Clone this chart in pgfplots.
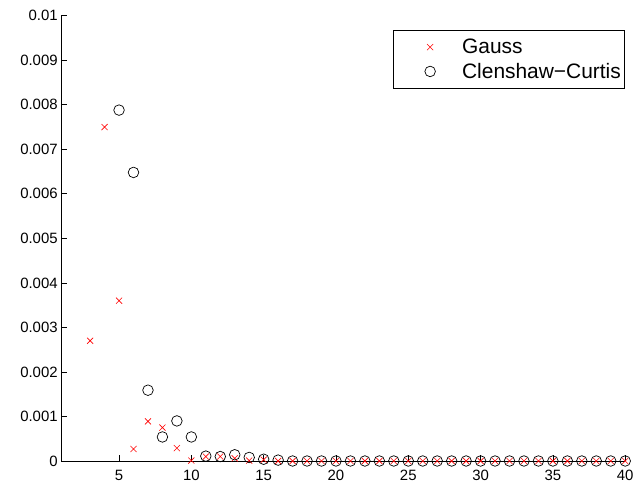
\documentclass[border=0pt]{standalone}
\usepackage{fontspec}
\setmainfont{Liberation Sans}
\usepackage{pgfplots}
\pgfplotsset{compat=1.18}
\begin{document}
\begin{tikzpicture}
\path[use as bounding box] (-61.2bp,-27bp) rectangle (572.8bp,461bp);
\begin{axis}[
  at={(0,0)}, anchor=south west,
  scale only axis, width=564bp, height=445.3bp,
  xmin=1, xmax=40, ymin=0, ymax=0.01,
  axis lines*=left,
  axis line style={line width=0.7bp, black},
  xtick={5,10,15,20,25,30,35,40},
  ytick={0,0.001,0.002,0.003,0.004,0.005,0.006,0.007,0.008,0.009,0.01},
  tick align=inside, major tick length=5.5bp,
  tick style={line width=0.7bp, black},
  scaled y ticks=false,
  yticklabel style={/pgf/number format/fixed, /pgf/number format/precision=3},
  xticklabel style={yshift=-6bp},
  /pgf/number format/assume math mode=true,
  ticklabel style={font=\fontsize{15}{18}\selectfont},
  clip=false,
  legend cell align=left,
  legend image code/.code={\path[draw=none,fill=none] (0bp,-5bp) rectangle (66bp,5bp); \draw plot coordinates {(36bp,0bp)};},
  legend style={at={(rel axis cs:1,1)}, anchor=north east, xshift=-1bp, yshift=-14bp,
    draw=black, line width=0.7bp, font=\fontsize{21}{25}\selectfont,
    inner xsep=1bp, inner ysep=7bp, row sep=4bp},
]
\addplot[only marks, mark=x, red, mark size=4.3bp, line width=0.6bp] coordinates {
(3,0.0027) (4,0.0075) (5,0.0036) (6,0.00027) (7,0.00089) (8,0.00075) (9,0.00029)
(10,0.00001) (11,0.0001) (12,0.0001) (13,0.00006) (14,0.00001) (15,0.00003)
(16,0) (17,0) (18,0) (19,0) (20,0) (21,0) (22,0) (23,0) (24,0) (25,0) (26,0) (27,0)
(28,0) (29,0) (30,0) (31,0) (32,0) (33,0) (34,0) (35,0) (36,0) (37,0) (38,0) (39,0) (40,0)
};
\addlegendentry{Gauss}
\addplot[only marks, mark=o, black, mark size=5.3bp, line width=0.7bp] coordinates {
(5,0.00788) (6,0.00648) (7,0.00159) (8,0.00054) (9,0.0009) (10,0.00054)
(11,0.00011) (12,0.0001) (13,0.00014) (14,0.00008) (15,0.00004) (16,0.00002)
(17,0) (18,0) (19,0) (20,0) (21,0) (22,0) (23,0) (24,0) (25,0) (26,0) (27,0)
(28,0) (29,0) (30,0) (31,0) (32,0) (33,0) (34,0) (35,0) (36,0) (37,0) (38,0) (39,0) (40,0)
};
\addlegendentry{Clenshaw−Curtis}
\end{axis}
\end{tikzpicture}
\end{document}
